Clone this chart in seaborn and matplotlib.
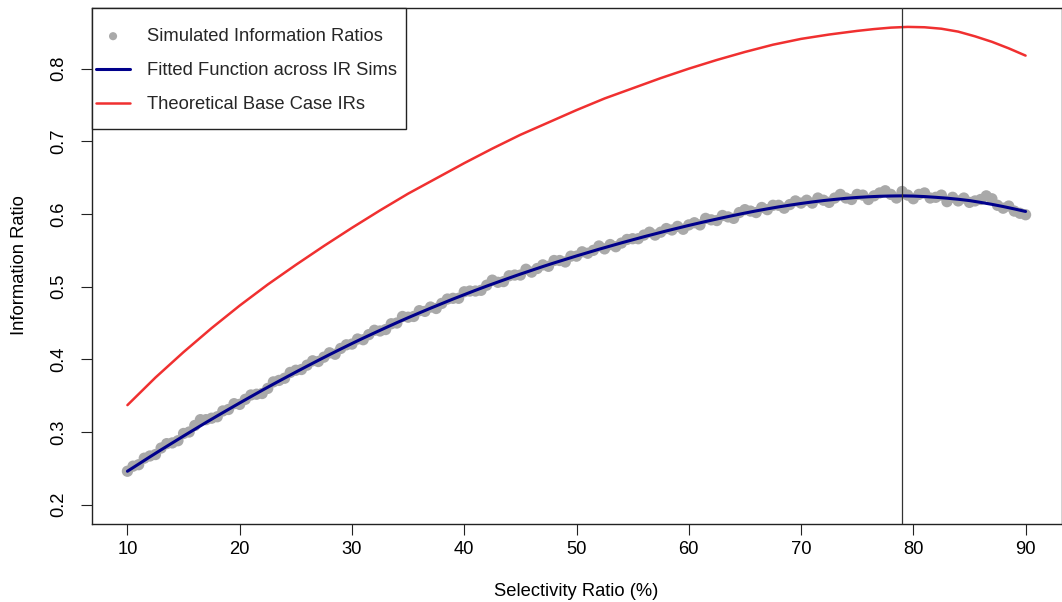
import numpy as np
import matplotlib
matplotlib.use("Agg")
import matplotlib.pyplot as plt
import seaborn as sns
from matplotlib.patches import Rectangle

# ---------------- data ----------------
sim_x = [10 + 0.5 * i for i in range(161)]
sim_ir = [
    .246, .253, .255, .264, .267, .269, .278, .284, .285, .288,
    .298, .300, .309, .317, .317, .319, .321, .329, .331, .339,
    .338, .345, .351, .352, .353, .360, .369, .371, .374, .382,
    .385, .386, .392, .398, .397, .403, .409, .407, .415, .420,
    .421,
    .428, .427, .434, .440, .439, .441, .449, .450, .459, .458,
    .459, .467, .466, .472, .470, .477, .483, .484, .484, .493,
    .494, .494, .495, .502, .509, .506, .507, .515, .516, .516,
    .524, .520, .525, .530, .528, .536, .536, .534, .542, .542,
    .548, .546, .550, .556, .552, .558, .555, .560, .565, .566,
    .566, .571, .575, .571, .575, .580, .578, .583, .579, .585,
    .588, .585, .594, .592, .591, .598, .596, .594, .602, .606,
    .604, .602, .609, .606, .612, .612, .608, .613, .618, .615,
    .619, .615, .622, .619, .616, .622, .627, .622, .620, .627,
    .626, .620, .625, .629, .632, .627, .622, .631, .626, .621,
    .627, .629, .622, .623, .626, .617, .623, .618, .622, .616,
    .618, .620, .625, .621, .612, .608, .611, .604, .601, .599,
]

fit_x = list(range(10, 91))
fit_ir = [
    .2460, .2559, .2658, .2755, .2850, .2945, .3038, .3131, .3222, .3311,
    .3400, .3487, .3574, .3659, .3742, .3825, .3906, .3986, .4065, .4142,
    .4218, .4292, .4364, .4435, .4505, .4573, .4639, .4704, .4767, .4830,
    .4890, .4950, .5008, .5064, .5119, .5173, .5225, .5277, .5327, .5375,
    .5423, .5469, .5515, .5559, .5603, .5645, .5687, .5727, .5767, .5805,
    .5843, .5879, .5914, .5948, .5981, .6013, .6043, .6071, .6098, .6122,
    .6145, .6166, .6185, .6201, .6216, .6228, .6237, .6244, .6248, .6250,
    .6247, .6240, .6230, .6218, .6203, .6185, .6160, .6133, .6103, .6070,
    .6035,
]

theory_x = [10, 12.5, 15, 17.5, 20, 22.5, 25, 27.5, 30, 32.5, 35, 37.5,
            40, 42.5, 45, 47.5, 50, 52.5, 55, 57.5, 60, 62.5, 65, 67.5,
            70, 72.5, 75, 76.5, 78, 79.5, 81, 82.5, 84, 85.5, 87, 88.5, 90]
theory_ir = [.337, .375, .410, .443, .474, .503, .530, .556, .581, .605,
             .628, .649, .670, .690, .709, .726, .743, .759, .773, .787,
             .800, .812, .823, .833, .841, .847, .852, .8545, .8565, .8575,
             .857, .855, .851, .8445, .837, .828, .818]

optimal_sr = 79

x_ticks = [10, 20, 30, 40, 50, 60, 70, 80, 90]
y_ticks = [0.2, 0.3, 0.4, 0.5, 0.6, 0.7, 0.8]

labels = ["Simulated Information Ratios",
          "Fitted Function across IR Sims",
          "Theoretical Base Case IRs"]

# ---------------- style ----------------
sns.set_theme(style="white")
plt.rcParams["font.family"] = ["Liberation Sans", "DejaVu Sans"]
FS = 13.2

W, H = 1062, 602
fig = plt.figure(figsize=(W / 100, H / 100), dpi=100)
L, R, T, B = 91.5, 1061.5, 7.5, 523.5
ax = fig.add_axes([L / W, (H - B) / H, (R - L) / W, (B - T) / H])

sns.scatterplot(x=sim_x, y=sim_ir, ax=ax, color="#A9A9A9", s=66,
                edgecolor="none", linewidth=0, label=labels[0], zorder=2)
sns.lineplot(x=fit_x, y=fit_ir, ax=ax, color="#00008B", lw=2.2,
             label=labels[1], zorder=3)
sns.lineplot(x=theory_x, y=theory_ir, ax=ax, color="#F03030", lw=1.8,
             label=labels[2], zorder=3)
ax.axvline(optimal_sr, color="#333333", lw=0.9, zorder=4)

ax.set_xlim(6.8, 93.2)
ax.set_ylim(0.1741, 0.8842)
ax.set_xticks(x_ticks)
ax.set_xticklabels([str(v) for v in x_ticks])
ax.set_yticks(y_ticks)
ax.set_yticklabels([f"{v:.1f}" for v in y_ticks])

ax.tick_params(axis="both", direction="out", length=7.9, width=0.8,
               color="#222222", labelsize=FS, labelcolor="black",
               bottom=True, left=True)
ax.tick_params(axis="x", pad=5)
ax.tick_params(axis="y", pad=9.5)
plt.setp(ax.get_yticklabels(), rotation=90, va="center")

for sp in ax.spines.values():
    sp.set_visible(True)
    sp.set_color("#222222")
    sp.set_linewidth(1.0)

ax.set_xlabel("Selectivity Ratio (%)", fontsize=FS, labelpad=17.5, color="black")
ax.set_ylabel("Information Ratio", fontsize=FS, labelpad=16, color="black")

# legend: frame drawn as a rectangle in axes fraction coordinates
aw, ah = R - L, B - T
box = Rectangle((0, 1 - (128.5 - T) / ah), (406 - L) / aw, (128.5 - T) / ah,
                transform=ax.transAxes, facecolor="white", edgecolor="#222222",
                lw=1.0, zorder=5, clip_on=False)
ax.add_patch(box)
leg = ax.legend(loc="upper left",
                bbox_to_anchor=((96 - L) / aw, 1 - (28 - T) / ah),
                frameon=False, fontsize=FS, borderpad=0, borderaxespad=0,
                handlelength=1.86, handletextpad=0.91, labelspacing=0.93,
                markerscale=0.72)
leg.set_zorder(6)

fig.savefig("out.png", dpi=100)
